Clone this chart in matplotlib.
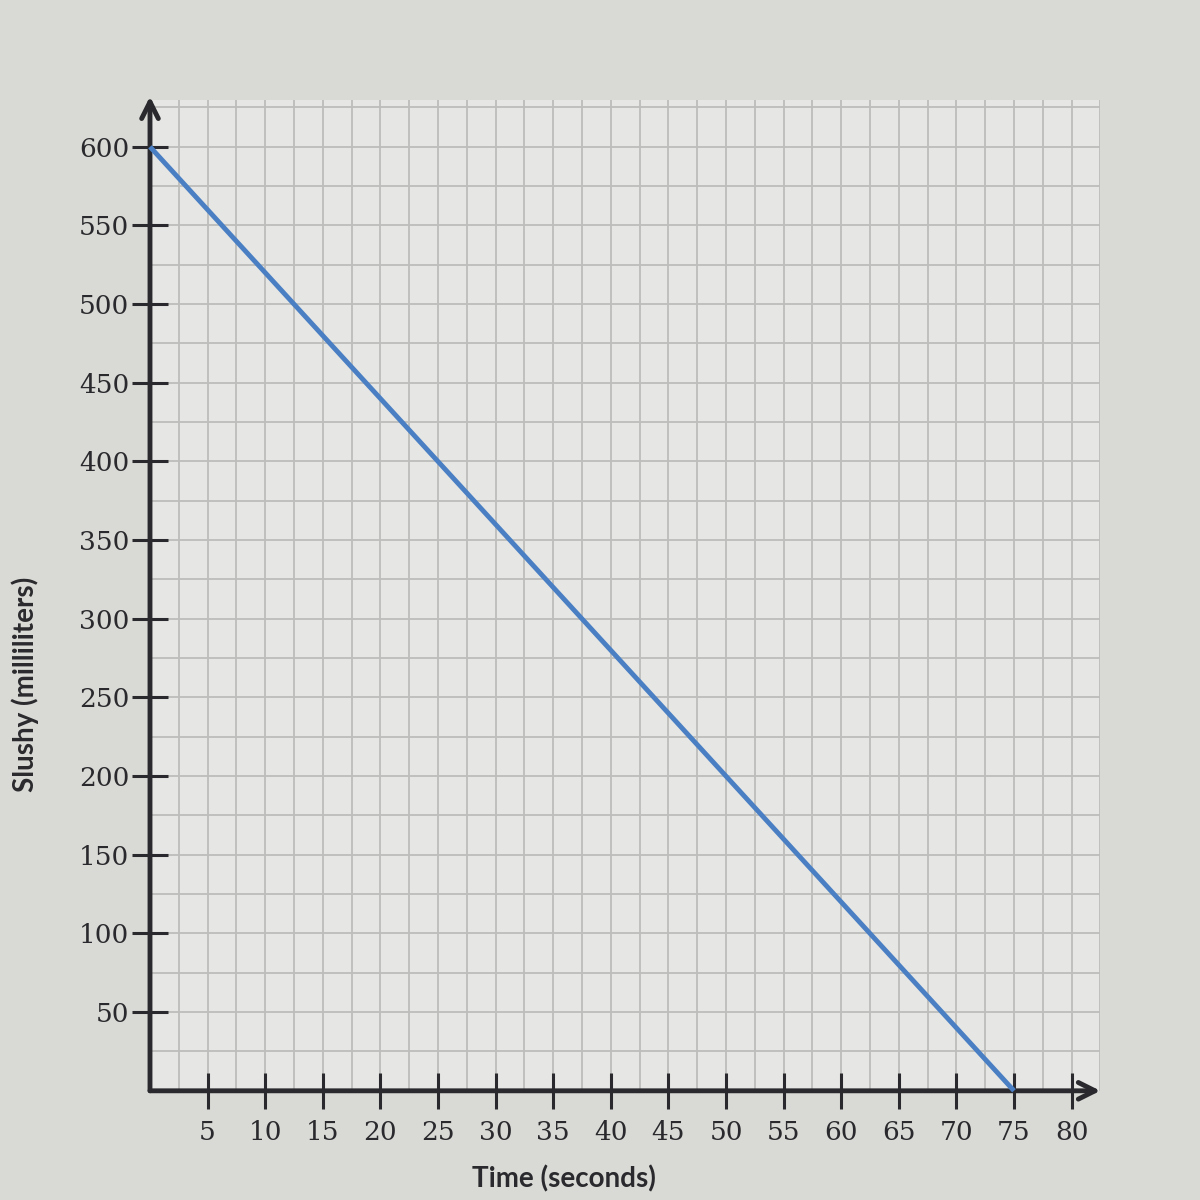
import matplotlib.pyplot as plt
import numpy as np

# --- data ---
time_s = [0, 75]
slushy_ml = [600, 0]
x_ticks = [5, 10, 15, 20, 25, 30, 35, 40, 45, 50, 55, 60, 65, 70, 75, 80]
y_ticks = [50, 100, 150, 200, 250, 300, 350, 400, 450, 500, 550, 600]

fig = plt.figure(figsize=(12, 12), dpi=100, facecolor='#d9d9d5')
ax = fig.add_axes([0.125, 0.091, 0.792, 0.826])
ax.set_facecolor('#e6e7e4')

ax.set_xlim(0, 82.5)
ax.set_ylim(0, 630)

# grid every 2.5 s and 25 ml
ax.set_xticks(np.arange(2.5, 83, 2.5), minor=True)
ax.set_yticks(np.arange(25, 630, 25), minor=True)
ax.grid(True, which='minor', color='#bdbebb', linewidth=1.3)
ax.grid(True, which='major', color='#bdbebb', linewidth=1.3)
ax.tick_params(which='minor', length=0)

for s in ax.spines.values():
    s.set_visible(False)

# axes with arrows
ax.annotate('', xy=(82.5, 0), xytext=(0, 0),
            arrowprops=dict(arrowstyle='->', color='#2a2a2e', lw=3.5,
                            mutation_scale=30, shrinkA=0, shrinkB=0),
            annotation_clip=False)
ax.annotate('', xy=(0, 632), xytext=(0, 0),
            arrowprops=dict(arrowstyle='->', color='#2a2a2e', lw=3.5,
                            mutation_scale=30, shrinkA=0, shrinkB=0),
            annotation_clip=False)

ax.plot(time_s, slushy_ml, color='#4a7fc4', lw=3.5, solid_capstyle='butt', clip_on=False, zorder=5)

serif = 'DejaVu Serif'
ax.set_xticks(x_ticks)
ax.set_xticklabels([str(v) for v in x_ticks], fontsize=19, family=serif, color='#2a2a2e')
ax.set_yticks(y_ticks)
ax.set_yticklabels([str(v) for v in y_ticks], fontsize=19, family=serif, color='#2a2a2e')
ax.tick_params(which='major', direction='inout', length=26, width=2.2, color='#2a2a2e', pad=2)
ax.tick_params(axis='x', pad=8)

fig.text(0.021, 0.43, 'Slushy (milliliters)', rotation=90, ha='center', va='center',
         fontsize=20, fontweight='bold', family='Lato', color='#2a2a2e')
fig.text(0.47, 0.018, 'Time (seconds)', ha='center', va='center',
         fontsize=20, fontweight='bold', family='Lato', color='#2a2a2e')

fig.savefig('out.png', dpi=100, facecolor=fig.get_facecolor())
